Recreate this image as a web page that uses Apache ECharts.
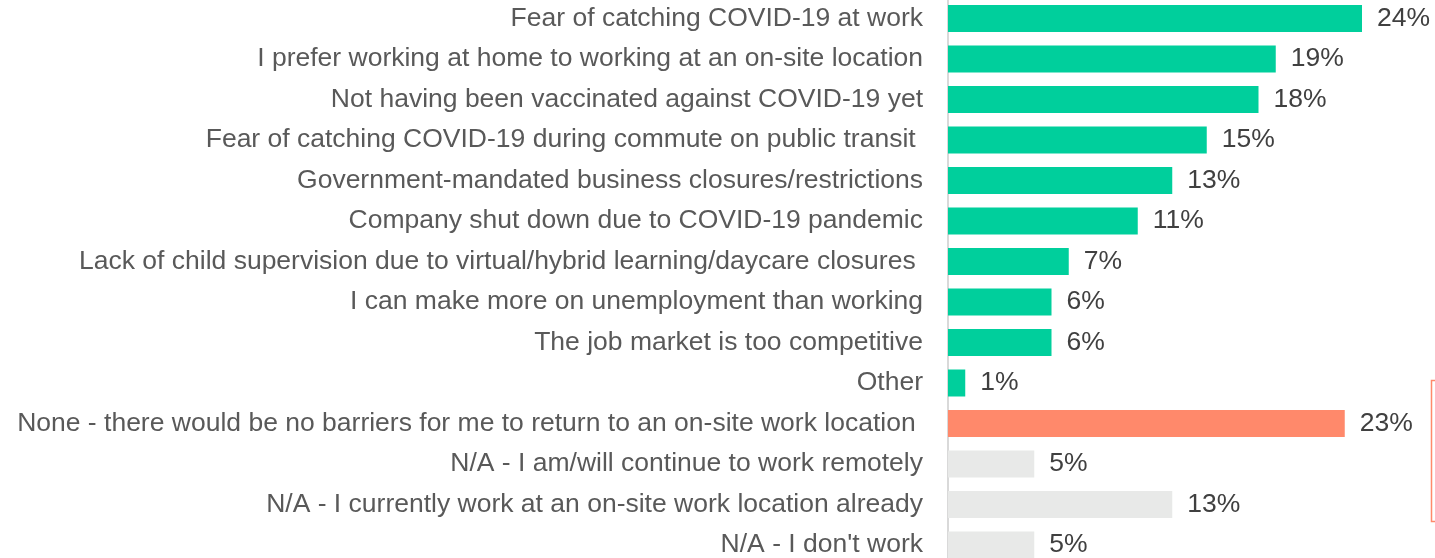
<!DOCTYPE html>
<html>
<head>
<meta charset="utf-8">
<title>Barriers to returning to on-site work</title>
<script src="https://cdn.jsdelivr.net/npm/echarts@6/dist/echarts.min.js"></script>
<style>
  html, body { margin: 0; padding: 0; background: #fff; }
  #chart { width: 1435px; height: 558px; }
</style>
</head>
<body>
<div id="chart"></div>
<script>
// categories, top to bottom
const categories = [
  "Fear of catching COVID-19 at work",
  "I prefer working at home to working at an on-site location",
  "Not having been vaccinated against COVID-19 yet",
  "Fear of catching COVID-19 during commute on public transit ",
  "Government-mandated business closures/restrictions",
  "Company shut down due to COVID-19 pandemic",
  "Lack of child supervision due to virtual/hybrid learning/daycare closures ",
  "I can make more on unemployment than working",
  "The job market is too competitive",
  "Other",
  "None - there would be no barriers for me to return to an on-site work location ",
  "N/A - I am/will continue to work remotely",
  "N/A - I currently work at an on-site work location already",
  "N/A - I don't work"
]

// share of respondents (%)
const values = [24, 19, 18, 15, 13, 11, 7, 6, 6, 1, 23, 5, 13, 5]

// answer group for each category
const groups = [
  "barrier", "barrier", "barrier", "barrier", "barrier",
  "barrier", "barrier", "barrier", "barrier", "barrier",
  "none", "na", "na", "na"
]

const groupColor = {
  barrier: "#00CF9C",
  none: "#FF896B",
  na: "#E8E9E8"
}

const chart = echarts.init(document.getElementById("chart"))

chart.setOption({
  animation: false,
  grid: {
    left: 948,
    right: 55.75,
    top: -1.75,
    height: 567,
    outerBoundsMode: "none"
  },
  xAxis: {
    type: "value",
    min: 0,
    max: 25,
    show: false
  },
  yAxis: {
    type: "category",
    inverse: true,
    data: categories,
    offset: 2,
    axisLine: {
      show: true,
      lineStyle: { color: "#D9D9D9", width: 2 }
    },
    axisTick: { show: false },
    axisLabel: {
      margin: 23,
      fontFamily: "Liberation Sans, Arial, sans-serif",
      fontSize: 26.5,
      color: "#595959"
    }
  },
  series: [{
    type: "bar",
    barWidth: 27,
    data: values.map((v, i) => ({
      value: v,
      itemStyle: { color: groupColor[groups[i]] }
    })),
    label: {
      show: true,
      position: "right",
      distance: 15,
      formatter: "{c}%",
      fontFamily: "Liberation Sans, Arial, sans-serif",
      fontSize: 26.5,
      color: "#404040"
    }
  }],
  graphic: [{
    type: "rect",
    shape: { x: 1431.5, y: 380.5, width: 30, height: 141 },
    style: { fill: "none", stroke: "#FF896B", lineWidth: 1.5 }
  }]
})
</script>
</body>
</html>
